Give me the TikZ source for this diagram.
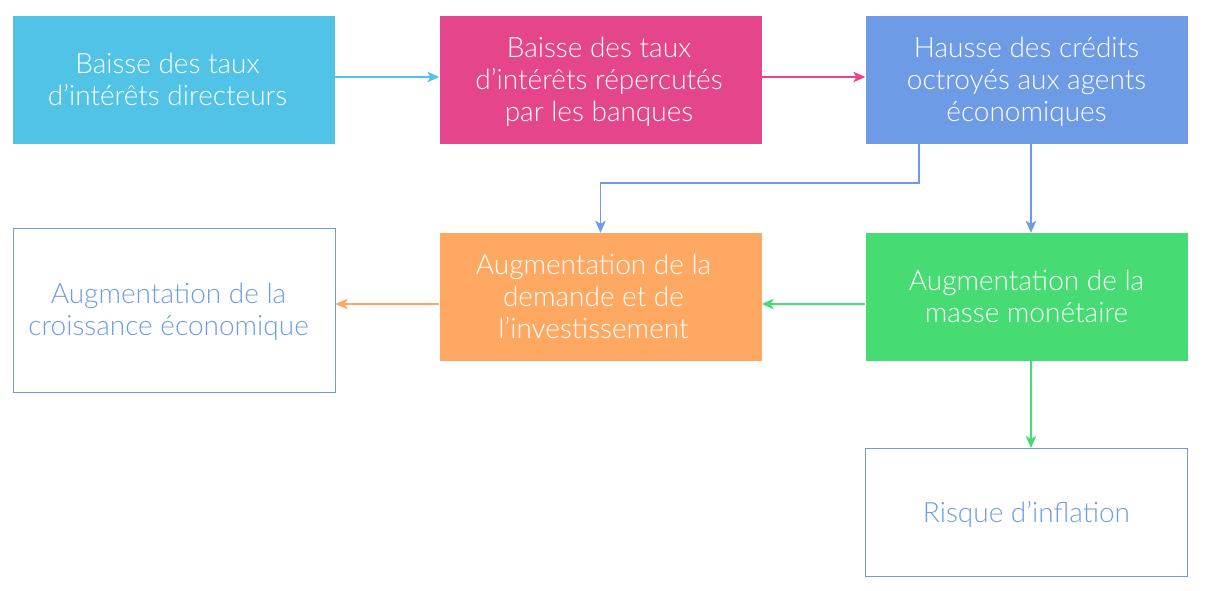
\documentclass[tikz,border=0pt]{standalone}
\usepackage{fontspec}
\setmainfont{Lato}[UprightFont=* Light]
\usetikzlibrary{arrows.meta}
\definecolor{ccyan}{HTML}{51C3E7}
\definecolor{cpink}{HTML}{E5458A}
\definecolor{cblue}{HTML}{6E9BE6}
\definecolor{corange}{HTML}{FFA862}
\definecolor{cgreen}{HTML}{47DB74}
\newcommand\boxtext[2][0pt]{\raisebox{-3.5pt}[\height][\depth]{\begin{tabular}{@{}c@{}}#2\end{tabular}}\hspace*{#1}}
\tikzset{
  box/.style={rectangle, minimum width=322pt, minimum height=128pt, inner sep=0pt,
    font=\fontsize{28}{32}\selectfont, text=white},
  fillbox/.style={box, fill=#1},
  linebox/.style={box, draw=cblue, line width=1pt, text=cblue},
  conn/.style={draw=#1, line width=1.1pt, -{Stealth[length=12pt,width=10.5pt,inset=3pt]}}
}
\begin{document}
\begin{tikzpicture}[x=1pt,y=-1pt]
\useasboundingbox (0,0) rectangle (1206,590);
\node[fillbox=ccyan] (b1) at (174,80) {\boxtext[13pt]{Baisse des taux\\d’intérêts directeurs}};
\node[fillbox=cpink] (b2) at (600.5,80) {\boxtext[3pt]{Baisse des taux\\d’intérêts répercutés\\par les banques}};
\node[fillbox=cblue] (b3) at (1026.5,80) {\boxtext{Hausse des crédits\\octroyés aux agents\\économiques}};
\node[linebox, minimum height=164pt] (b4) at (174,310) {\boxtext[11pt]{Augmentation de la\\croissance économique}};
\node[fillbox=corange] (b5) at (600.5,297) {\boxtext[14pt]{Augmentation de la\\demande et de\\l’investissement}};
\node[fillbox=cgreen] (b6) at (1026.5,297) {\boxtext{Augmentation de la\\masse monétaire}};
\node[linebox] (b7) at (1026.5,512.5) {\boxtext{Risque d’inflation}};
\coordinate (k) at (919,183);
\draw[conn=ccyan] ([yshift=3pt]b1.east) -- ([yshift=3pt]b2.west);
\draw[conn=cpink] ([yshift=3pt]b2.east) -- ([yshift=3pt]b3.west);
\draw[conn=cblue] (b3.south -| k) -- (k) -| (b5.north);
\draw[conn=cblue] ([xshift=4.5pt]b3.south) -- ([xshift=4.5pt]b6.north);
\draw[conn=cgreen] ([yshift=-7pt]b6.west) -- ([yshift=-7pt]b5.east);
\draw[conn=corange] ([yshift=-7pt]b5.west) -- ([yshift=6pt]b4.east);
\draw[conn=cgreen] ([xshift=4.5pt]b6.south) -- ([xshift=4.5pt]b7.north);
\end{tikzpicture}
\end{document}
